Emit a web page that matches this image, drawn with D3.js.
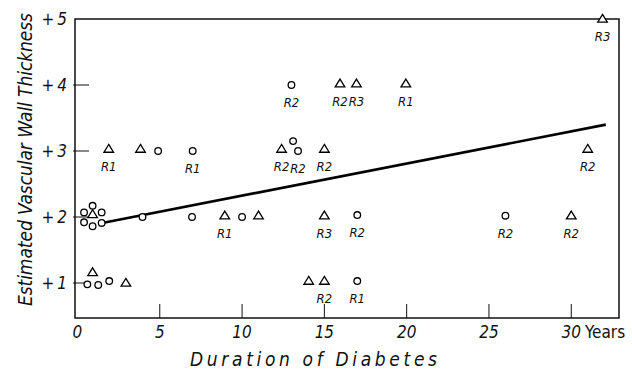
<!DOCTYPE html>
<html>
<head>
<meta charset="utf-8">
<script src="https://cdn.jsdelivr.net/npm/d3@7"></script>
<style>
  html, body { margin: 0; padding: 0; background: #fff; }
  svg { display: block; }
  text { font-family: "DejaVu Sans Condensed", "DejaVu Sans", sans-serif; fill: #111; }
  .it { font-style: italic; }
</style>
</head>
<body>
<svg id="chart" width="632" height="370"></svg>
<script>
// ============ Data ============
// open circles
const circleX = [0.4, 0.92, 1.47, 0.4, 0.92, 1.47, 3.95, 6.96, 10, 0.6, 1.26, 1.93, 4.9, 7, 13.1, 13.4, 13, 17, 17, 26];
const circleY = [2.07, 2.17, 2.07, 1.92, 1.86, 1.91, 2.0, 2.0, 2.0, 0.98, 0.97, 1.03, 3.0, 3.0, 3.15, 3.0, 4.0, 2.03, 1.03, 2.02];
const circleLabel = ["", "", "", "", "", "", "", "", "", "", "", "", "", "R1", "", "R2", "R2", "R2", "R1", "R2"];

// open triangles
const triX = [0.92, 0.92, 2.94, 1.9, 3.83, 12.4, 15, 8.95, 11, 15, 15.95, 16.95, 19.95, 14.05, 15, 31, 30, 31.9];
const triY = [2.04, 1.16, 1.0, 3.03, 3.03, 3.03, 3.03, 2.02, 2.02, 2.02, 4.02, 4.02, 4.02, 1.03, 1.03, 3.03, 2.02, 5.0];
const triLabel = ["", "", "", "R1", "", "R2", "R2", "R1", "", "R3", "R2", "R3", "R1", "", "R2", "R2", "R2", "R3"];

// regression line endpoints
const lineX = [1.5, 32.1];
const lineY = [1.91, 3.40];

const xTicks = [5, 10, 15, 20, 25, 30];
const yTicks = [1, 2, 3, 4, 5];

// ============ Layout ============
const svg = d3.select("#chart");
const x = d3.scaleLinear().domain([-0.15, 32.9]).range([75, 619]);
const y = d3.scaleLinear().domain([0.47, 5]).range([318, 19]);

// ---- Frame ----
svg.append("rect")
  .attr("x", x.range()[0]).attr("y", y.range()[1])
  .attr("width", x.range()[1] - x.range()[0])
  .attr("height", y.range()[0] - y.range()[1])
  .attr("fill", "none").attr("stroke", "#111").attr("stroke-width", 1.5);

// ---- Ticks (inward) ----
svg.append("g").selectAll("line").data(xTicks).enter().append("line")
  .attr("x1", d => x(d)).attr("x2", d => x(d))
  .attr("y1", y.range()[0]).attr("y2", y.range()[0] - 14)
  .attr("stroke", "#111").attr("stroke-width", 1);

svg.append("g").selectAll("line").data(yTicks.slice(0, 4)).enter().append("line")
  .attr("x1", x.range()[0] - 2).attr("x2", x.range()[0] + 14)
  .attr("y1", d => y(d)).attr("y2", d => y(d))
  .attr("stroke", "#111").attr("stroke-width", 1);

// ---- Tick labels ----
svg.append("g").selectAll("text").data([0].concat(xTicks)).enter().append("text")
  .attr("class", "it")
  .attr("x", d => x(d)).attr("y", 338)
  .attr("text-anchor", "middle")
  .attr("font-size", 17)
  .text(d => d);

svg.append("text")
  .attr("x", 585).attr("y", 338)
  .attr("font-size", 17)
  .text("Years");

const yLab = svg.append("g").selectAll("text").data(yTicks).enter().append("text")
  .attr("x", 67).attr("y", d => y(d) + 6)
  .attr("text-anchor", "end")
  .attr("font-size", 17);
yLab.append("tspan").text("+");
yLab.append("tspan").attr("class", "it").attr("dx", 3).text(d => d);

// ---- Axis titles ----
svg.append("text")
  .attr("class", "it")
  .attr("x", 190).attr("y", 366)
  .attr("font-size", 19)
  .attr("textLength", 247).attr("lengthAdjust", "spacing")
  .text("Duration of Diabetes");

svg.append("text")
  .attr("class", "it")
  .attr("transform", "translate(32,306) rotate(-90)")
  .attr("font-size", 19)
  .attr("textLength", 293).attr("lengthAdjust", "spacing")
  .text("Estimated Vascular Wall Thickness");

// ---- Regression line ----
svg.append("path")
  .datum(lineX.map((v, i) => [v, lineY[i]]))
  .attr("d", d3.line().x(d => x(d[0])).y(d => y(d[1])))
  .attr("fill", "none").attr("stroke", "#000").attr("stroke-width", 2.6);

// ---- Markers ----
const circles = circleX.map((v, i) => ({ x: v, y: circleY[i], label: circleLabel[i] }));
const tris = triX.map((v, i) => ({ x: v, y: triY[i], label: triLabel[i] }));

svg.append("g").selectAll("circle").data(circles).enter().append("circle")
  .attr("cx", d => x(d.x)).attr("cy", d => y(d.y)).attr("r", 3.3)
  .attr("fill", "#fff").attr("stroke", "#000").attr("stroke-width", 1.3);

const triPath = "M0,-4.6L4.8,3.2L-4.8,3.2Z";
svg.append("g").selectAll("path").data(tris).enter().append("path")
  .attr("d", triPath)
  .attr("transform", d => `translate(${x(d.x)},${y(d.y)})`)
  .attr("fill", "#fff").attr("stroke", "#000").attr("stroke-width", 1.3)
  .attr("stroke-linejoin", "miter");

// ---- Marker labels ----
const labelled = circles.concat(tris).filter(d => d.label);
svg.append("g").selectAll("text").data(labelled).enter().append("text")
  .attr("class", "it")
  .attr("x", d => x(d.x)).attr("y", d => y(d.y) + 22)
  .attr("text-anchor", "middle")
  .attr("font-size", 13)
  .text(d => d.label);
</script>
</body>
</html>
